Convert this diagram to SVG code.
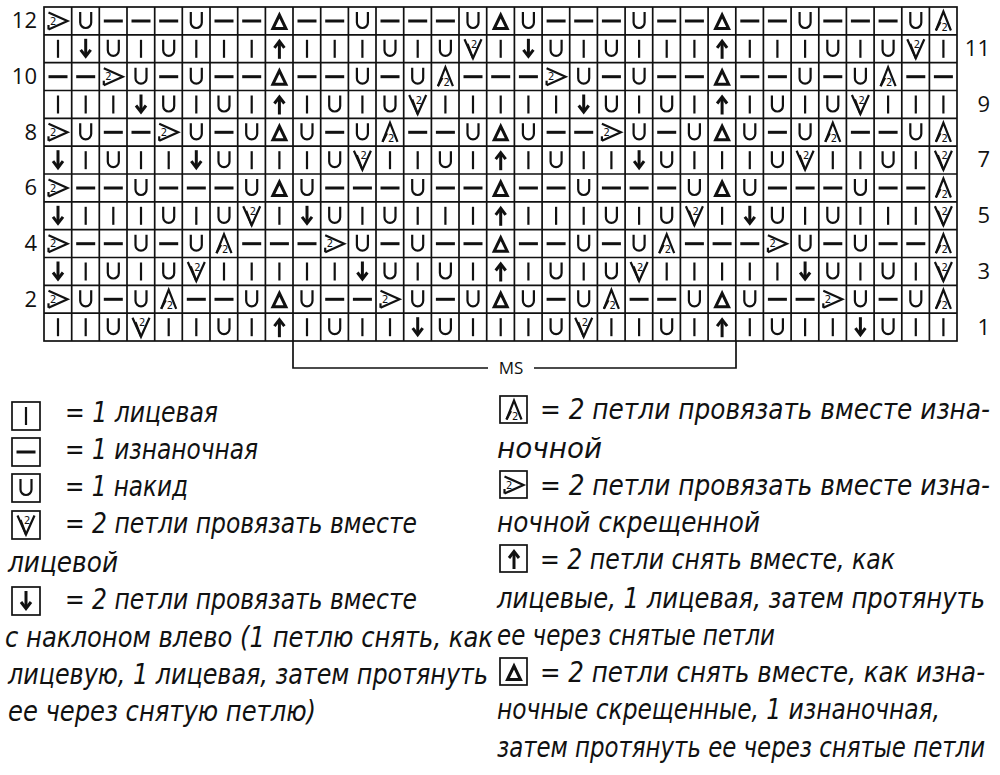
<svg xmlns="http://www.w3.org/2000/svg" xmlns:xlink="http://www.w3.org/1999/xlink" width="1000" height="775" viewBox="0 0 1000 775">
<style>
.s{fill:none;stroke:#111;stroke-width:2.2;stroke-linecap:butt;stroke-linejoin:miter}
.b{fill:none;stroke:#111;stroke-width:3}
.n2{font-family:"DejaVu Sans",sans-serif;font-size:10px;fill:#111}
.num{font-family:"Open Sans","DejaVu Sans",sans-serif;font-size:22px;fill:#111}
.lg{font-family:"Liberation Sans Narrow","DejaVu Sans Condensed","Liberation Sans",sans-serif;font-style:italic;font-size:29px;fill:#111}
.grid{fill:none;stroke:#111;stroke-width:1.7}
.box{fill:#fff;stroke:#111;stroke-width:1.7}
</style>
<defs>
<g id="k"><line class="s" x1="14" y1="5" x2="14" y2="23"/></g>
<g id="p"><line class="b" x1="4.5" y1="14" x2="23.5" y2="14"/></g>
<g id="y"><path class="s" d="M8.5,5V15.5a5.5,5.5 0 0 0 11,0V5"/></g>
<g id="v"><polyline class="s" points="5.5,4.5 14,23.5 22.5,4.5"/><line class="s" x1="8.5" y1="9" x2="14" y2="23.5" /><text class="n2" x="12" y="13">2</text></g>
<g id="a"><polyline class="s" points="6.5,23.5 14,4.5 21.5,23.5"/><line class="s" x1="6.5" y1="23.5" x2="11" y2="15"/><text class="n2" x="12" y="23.5">2</text></g>
<g id="c"><polyline class="s" points="4.5,5.5 23.5,14 4.5,22.5"/><line class="s" x1="4.5" y1="18" x2="4.5" y2="22.5"/><text class="n2" x="6" y="17.5">2</text></g>
<g id="t"><polygon class="b" points="7.5,21.5 14,8 20.5,21.5"/></g>
<g id="u"><line class="b" x1="14" y1="24" x2="14" y2="7"/><polyline class="b" points="9,13 14,6.5 19,13"/></g>
<g id="d"><line class="b" x1="14" y1="4" x2="14" y2="21"/><polyline class="b" points="9,15 14,21.5 19,15"/></g>
</defs>

<g id="chart-grid">
<rect class="grid" x="44" y="7" width="913" height="334"/>
<path class="grid" d="M71.7,7V341M99.3,7V341M127,7V341M154.7,7V341M182.3,7V341M210,7V341M237.7,7V341M265.4,7V341M293,7V341M320.7,7V341M348.4,7V341M376,7V341M403.7,7V341M431.4,7V341M459,7V341M486.7,7V341M514.4,7V341M542.1,7V341M569.7,7V341M597.4,7V341M625.1,7V341M652.7,7V341M680.4,7V341M708.1,7V341M735.8,7V341M763.4,7V341M791.1,7V341M818.8,7V341M846.4,7V341M874.1,7V341M901.8,7V341M929.4,7V341
M44,34.8H957M44,62.7H957M44,90.5H957M44,118.3H957M44,146.2H957M44,174H957M44,201.8H957M44,229.7H957M44,257.5H957M44,285.3H957M44,313.2H957"/>
</g>

<g id="row12" transform="translate(0,7)">
<use href="#c" x="44"/><use href="#y" x="71.7"/><use href="#p" x="99.3"/><use href="#p" x="127"/><use href="#p" x="154.7"/><use href="#y" x="182.3"/><use href="#p" x="210"/><use href="#p" x="237.7"/><use href="#t" x="265.4"/><use href="#p" x="293"/><use href="#p" x="320.7"/><use href="#y" x="348.4"/><use href="#p" x="376"/><use href="#p" x="403.7"/><use href="#p" x="431.4"/><use href="#y" x="459"/><use href="#t" x="486.7"/><use href="#y" x="514.4"/><use href="#p" x="542.1"/><use href="#p" x="569.7"/><use href="#p" x="597.4"/><use href="#y" x="625.1"/><use href="#p" x="652.7"/><use href="#p" x="680.4"/><use href="#t" x="708.1"/><use href="#p" x="735.8"/><use href="#p" x="763.4"/><use href="#y" x="791.1"/><use href="#p" x="818.8"/><use href="#p" x="846.4"/><use href="#p" x="874.1"/><use href="#y" x="901.8"/><use href="#a" x="929.4"/>
</g>
<g id="row11" transform="translate(0,34.8)">
<use href="#k" x="44"/><use href="#d" x="71.7"/><use href="#y" x="99.3"/><use href="#k" x="127"/><use href="#y" x="154.7"/><use href="#k" x="182.3"/><use href="#k" x="210"/><use href="#k" x="237.7"/><use href="#u" x="265.4"/><use href="#k" x="293"/><use href="#k" x="320.7"/><use href="#k" x="348.4"/><use href="#y" x="376"/><use href="#k" x="403.7"/><use href="#y" x="431.4"/><use href="#v" x="459"/><use href="#k" x="486.7"/><use href="#d" x="514.4"/><use href="#y" x="542.1"/><use href="#k" x="569.7"/><use href="#y" x="597.4"/><use href="#k" x="625.1"/><use href="#k" x="652.7"/><use href="#k" x="680.4"/><use href="#u" x="708.1"/><use href="#k" x="735.8"/><use href="#k" x="763.4"/><use href="#k" x="791.1"/><use href="#y" x="818.8"/><use href="#k" x="846.4"/><use href="#y" x="874.1"/><use href="#v" x="901.8"/><use href="#k" x="929.4"/>
</g>
<g id="row10" transform="translate(0,62.7)">
<use href="#p" x="44"/><use href="#p" x="71.7"/><use href="#c" x="99.3"/><use href="#y" x="127"/><use href="#p" x="154.7"/><use href="#y" x="182.3"/><use href="#p" x="210"/><use href="#p" x="237.7"/><use href="#t" x="265.4"/><use href="#p" x="293"/><use href="#p" x="320.7"/><use href="#y" x="348.4"/><use href="#p" x="376"/><use href="#y" x="403.7"/><use href="#a" x="431.4"/><use href="#p" x="459"/><use href="#p" x="486.7"/><use href="#p" x="514.4"/><use href="#c" x="542.1"/><use href="#y" x="569.7"/><use href="#p" x="597.4"/><use href="#y" x="625.1"/><use href="#p" x="652.7"/><use href="#p" x="680.4"/><use href="#t" x="708.1"/><use href="#p" x="735.8"/><use href="#p" x="763.4"/><use href="#y" x="791.1"/><use href="#p" x="818.8"/><use href="#y" x="846.4"/><use href="#a" x="874.1"/><use href="#p" x="901.8"/><use href="#p" x="929.4"/>
</g>
<g id="row9" transform="translate(0,90.5)">
<use href="#k" x="44"/><use href="#k" x="71.7"/><use href="#k" x="99.3"/><use href="#d" x="127"/><use href="#y" x="154.7"/><use href="#k" x="182.3"/><use href="#y" x="210"/><use href="#k" x="237.7"/><use href="#u" x="265.4"/><use href="#k" x="293"/><use href="#y" x="320.7"/><use href="#k" x="348.4"/><use href="#y" x="376"/><use href="#v" x="403.7"/><use href="#k" x="431.4"/><use href="#k" x="459"/><use href="#k" x="486.7"/><use href="#k" x="514.4"/><use href="#k" x="542.1"/><use href="#d" x="569.7"/><use href="#y" x="597.4"/><use href="#k" x="625.1"/><use href="#y" x="652.7"/><use href="#k" x="680.4"/><use href="#u" x="708.1"/><use href="#k" x="735.8"/><use href="#y" x="763.4"/><use href="#k" x="791.1"/><use href="#y" x="818.8"/><use href="#v" x="846.4"/><use href="#k" x="874.1"/><use href="#k" x="901.8"/><use href="#k" x="929.4"/>
</g>
<g id="row8" transform="translate(0,118.3)">
<use href="#c" x="44"/><use href="#y" x="71.7"/><use href="#p" x="99.3"/><use href="#p" x="127"/><use href="#c" x="154.7"/><use href="#y" x="182.3"/><use href="#p" x="210"/><use href="#y" x="237.7"/><use href="#t" x="265.4"/><use href="#y" x="293"/><use href="#p" x="320.7"/><use href="#y" x="348.4"/><use href="#a" x="376"/><use href="#p" x="403.7"/><use href="#p" x="431.4"/><use href="#y" x="459"/><use href="#t" x="486.7"/><use href="#y" x="514.4"/><use href="#p" x="542.1"/><use href="#p" x="569.7"/><use href="#c" x="597.4"/><use href="#y" x="625.1"/><use href="#p" x="652.7"/><use href="#y" x="680.4"/><use href="#t" x="708.1"/><use href="#y" x="735.8"/><use href="#p" x="763.4"/><use href="#y" x="791.1"/><use href="#a" x="818.8"/><use href="#p" x="846.4"/><use href="#p" x="874.1"/><use href="#y" x="901.8"/><use href="#a" x="929.4"/>
</g>
<g id="row7" transform="translate(0,146.2)">
<use href="#d" x="44"/><use href="#k" x="71.7"/><use href="#y" x="99.3"/><use href="#k" x="127"/><use href="#k" x="154.7"/><use href="#d" x="182.3"/><use href="#y" x="210"/><use href="#k" x="237.7"/><use href="#k" x="265.4"/><use href="#k" x="293"/><use href="#y" x="320.7"/><use href="#v" x="348.4"/><use href="#k" x="376"/><use href="#k" x="403.7"/><use href="#y" x="431.4"/><use href="#k" x="459"/><use href="#u" x="486.7"/><use href="#k" x="514.4"/><use href="#y" x="542.1"/><use href="#k" x="569.7"/><use href="#k" x="597.4"/><use href="#d" x="625.1"/><use href="#y" x="652.7"/><use href="#k" x="680.4"/><use href="#k" x="708.1"/><use href="#k" x="735.8"/><use href="#y" x="763.4"/><use href="#v" x="791.1"/><use href="#k" x="818.8"/><use href="#k" x="846.4"/><use href="#y" x="874.1"/><use href="#k" x="901.8"/><use href="#v" x="929.4"/>
</g>
<g id="row6" transform="translate(0,174)">
<use href="#c" x="44"/><use href="#p" x="71.7"/><use href="#p" x="99.3"/><use href="#y" x="127"/><use href="#p" x="154.7"/><use href="#p" x="182.3"/><use href="#p" x="210"/><use href="#y" x="237.7"/><use href="#t" x="265.4"/><use href="#y" x="293"/><use href="#p" x="320.7"/><use href="#p" x="348.4"/><use href="#p" x="376"/><use href="#y" x="403.7"/><use href="#p" x="431.4"/><use href="#p" x="459"/><use href="#t" x="486.7"/><use href="#p" x="514.4"/><use href="#p" x="542.1"/><use href="#y" x="569.7"/><use href="#p" x="597.4"/><use href="#p" x="625.1"/><use href="#p" x="652.7"/><use href="#y" x="680.4"/><use href="#t" x="708.1"/><use href="#y" x="735.8"/><use href="#p" x="763.4"/><use href="#p" x="791.1"/><use href="#p" x="818.8"/><use href="#y" x="846.4"/><use href="#p" x="874.1"/><use href="#p" x="901.8"/><use href="#a" x="929.4"/>
</g>
<g id="row5" transform="translate(0,201.8)">
<use href="#d" x="44"/><use href="#k" x="71.7"/><use href="#k" x="99.3"/><use href="#k" x="127"/><use href="#y" x="154.7"/><use href="#k" x="182.3"/><use href="#y" x="210"/><use href="#v" x="237.7"/><use href="#k" x="265.4"/><use href="#d" x="293"/><use href="#y" x="320.7"/><use href="#k" x="348.4"/><use href="#y" x="376"/><use href="#k" x="403.7"/><use href="#k" x="431.4"/><use href="#k" x="459"/><use href="#u" x="486.7"/><use href="#k" x="514.4"/><use href="#k" x="542.1"/><use href="#k" x="569.7"/><use href="#y" x="597.4"/><use href="#k" x="625.1"/><use href="#y" x="652.7"/><use href="#v" x="680.4"/><use href="#k" x="708.1"/><use href="#d" x="735.8"/><use href="#y" x="763.4"/><use href="#k" x="791.1"/><use href="#y" x="818.8"/><use href="#k" x="846.4"/><use href="#k" x="874.1"/><use href="#k" x="901.8"/><use href="#v" x="929.4"/>
</g>
<g id="row4" transform="translate(0,229.7)">
<use href="#c" x="44"/><use href="#p" x="71.7"/><use href="#p" x="99.3"/><use href="#y" x="127"/><use href="#p" x="154.7"/><use href="#y" x="182.3"/><use href="#a" x="210"/><use href="#p" x="237.7"/><use href="#p" x="265.4"/><use href="#p" x="293"/><use href="#c" x="320.7"/><use href="#y" x="348.4"/><use href="#p" x="376"/><use href="#y" x="403.7"/><use href="#p" x="431.4"/><use href="#p" x="459"/><use href="#t" x="486.7"/><use href="#p" x="514.4"/><use href="#p" x="542.1"/><use href="#y" x="569.7"/><use href="#p" x="597.4"/><use href="#y" x="625.1"/><use href="#a" x="652.7"/><use href="#p" x="680.4"/><use href="#p" x="708.1"/><use href="#p" x="735.8"/><use href="#c" x="763.4"/><use href="#y" x="791.1"/><use href="#p" x="818.8"/><use href="#y" x="846.4"/><use href="#p" x="874.1"/><use href="#p" x="901.8"/><use href="#a" x="929.4"/>
</g>
<g id="row3" transform="translate(0,257.5)">
<use href="#d" x="44"/><use href="#k" x="71.7"/><use href="#y" x="99.3"/><use href="#k" x="127"/><use href="#y" x="154.7"/><use href="#v" x="182.3"/><use href="#k" x="210"/><use href="#k" x="237.7"/><use href="#k" x="265.4"/><use href="#k" x="293"/><use href="#k" x="320.7"/><use href="#d" x="348.4"/><use href="#y" x="376"/><use href="#k" x="403.7"/><use href="#y" x="431.4"/><use href="#k" x="459"/><use href="#u" x="486.7"/><use href="#k" x="514.4"/><use href="#y" x="542.1"/><use href="#k" x="569.7"/><use href="#y" x="597.4"/><use href="#v" x="625.1"/><use href="#k" x="652.7"/><use href="#k" x="680.4"/><use href="#k" x="708.1"/><use href="#k" x="735.8"/><use href="#k" x="763.4"/><use href="#d" x="791.1"/><use href="#y" x="818.8"/><use href="#k" x="846.4"/><use href="#y" x="874.1"/><use href="#k" x="901.8"/><use href="#v" x="929.4"/>
</g>
<g id="row2" transform="translate(0,285.3)">
<use href="#c" x="44"/><use href="#y" x="71.7"/><use href="#p" x="99.3"/><use href="#y" x="127"/><use href="#a" x="154.7"/><use href="#p" x="182.3"/><use href="#p" x="210"/><use href="#y" x="237.7"/><use href="#t" x="265.4"/><use href="#y" x="293"/><use href="#p" x="320.7"/><use href="#p" x="348.4"/><use href="#c" x="376"/><use href="#y" x="403.7"/><use href="#p" x="431.4"/><use href="#y" x="459"/><use href="#t" x="486.7"/><use href="#y" x="514.4"/><use href="#p" x="542.1"/><use href="#y" x="569.7"/><use href="#a" x="597.4"/><use href="#p" x="625.1"/><use href="#p" x="652.7"/><use href="#y" x="680.4"/><use href="#t" x="708.1"/><use href="#y" x="735.8"/><use href="#p" x="763.4"/><use href="#p" x="791.1"/><use href="#c" x="818.8"/><use href="#y" x="846.4"/><use href="#p" x="874.1"/><use href="#y" x="901.8"/><use href="#a" x="929.4"/>
</g>
<g id="row1" transform="translate(0,313.2)">
<use href="#k" x="44"/><use href="#k" x="71.7"/><use href="#y" x="99.3"/><use href="#v" x="127"/><use href="#k" x="154.7"/><use href="#k" x="182.3"/><use href="#y" x="210"/><use href="#k" x="237.7"/><use href="#u" x="265.4"/><use href="#k" x="293"/><use href="#y" x="320.7"/><use href="#k" x="348.4"/><use href="#k" x="376"/><use href="#d" x="403.7"/><use href="#y" x="431.4"/><use href="#k" x="459"/><use href="#k" x="486.7"/><use href="#k" x="514.4"/><use href="#y" x="542.1"/><use href="#v" x="569.7"/><use href="#k" x="597.4"/><use href="#k" x="625.1"/><use href="#y" x="652.7"/><use href="#k" x="680.4"/><use href="#u" x="708.1"/><use href="#k" x="735.8"/><use href="#y" x="763.4"/><use href="#k" x="791.1"/><use href="#k" x="818.8"/><use href="#d" x="846.4"/><use href="#y" x="874.1"/><use href="#k" x="901.8"/><use href="#k" x="929.4"/>
</g>

<g id="row-numbers" class="num">
<text x="37" y="28" text-anchor="end">12</text>
<text x="37" y="84" text-anchor="end">10</text>
<text x="37" y="140" text-anchor="end">8</text>
<text x="37" y="195" text-anchor="end">6</text>
<text x="37" y="251" text-anchor="end">4</text>
<text x="37" y="307" text-anchor="end">2</text>
<text x="990" y="56" text-anchor="end">11</text>
<text x="990" y="112" text-anchor="end">9</text>
<text x="990" y="167" text-anchor="end">7</text>
<text x="990" y="223" text-anchor="end">5</text>
<text x="990" y="279" text-anchor="end">3</text>
<text x="990" y="335" text-anchor="end">1</text>
</g>

<g id="connectors">
<path class="grid" d="M293,341V368H488M534,368H736V341"/>
<text x="511" y="374" text-anchor="middle" style="font-family:'Open Sans','DejaVu Sans',sans-serif;font-size:17px;fill:#111">MS</text>
</g>

<g id="legend-left">
<rect class="box" x="12" y="402" width="28" height="28"/><use href="#k" x="12" y="402"/>
<text class="lg" x="65" y="422" textLength="153" lengthAdjust="spacingAndGlyphs">= 1 лицевая</text>
<rect class="box" x="12" y="438" width="28" height="28"/><use href="#p" x="12" y="438"/>
<text class="lg" x="65" y="459" textLength="193" lengthAdjust="spacingAndGlyphs">= 1 изнаночная</text>
<rect class="box" x="12" y="474" width="28" height="28"/><use href="#y" x="12" y="474"/>
<text class="lg" x="65" y="496" textLength="123" lengthAdjust="spacingAndGlyphs">= 1 накид</text>
<rect class="box" x="12" y="511" width="28" height="28"/><use href="#v" x="12" y="511"/>
<text class="lg" x="65" y="533" textLength="352" lengthAdjust="spacingAndGlyphs">= 2 петли провязать вместе</text>
<text class="lg" x="8" y="572" textLength="110" lengthAdjust="spacingAndGlyphs">лицевой</text>
<rect class="box" x="12" y="587" width="28" height="28"/><use href="#d" x="12" y="587"/>
<text class="lg" x="65" y="609" textLength="352" lengthAdjust="spacingAndGlyphs">= 2 петли провязать вместе</text>
<text class="lg" x="5" y="647" textLength="488" lengthAdjust="spacingAndGlyphs">с наклоном влево (1 петлю снять, как</text>
<text class="lg" x="8" y="684" textLength="480" lengthAdjust="spacingAndGlyphs">лицевую, 1 лицевая, затем протянуть</text>
<text class="lg" x="8" y="721" textLength="308" lengthAdjust="spacingAndGlyphs">ее через снятую петлю)</text>
</g>

<g id="legend-right">
<rect class="box" x="500" y="396" width="27" height="27"/><use href="#a" x="500" y="396"/>
<text class="lg" x="540" y="419" textLength="450" lengthAdjust="spacingAndGlyphs">= 2 петли провязать вместе изна-</text>
<text class="lg" x="497" y="458" textLength="105" lengthAdjust="spacingAndGlyphs">ночной</text>
<rect class="box" x="500" y="471" width="27" height="27"/><use href="#c" x="500" y="471"/>
<text class="lg" x="540" y="495" textLength="450" lengthAdjust="spacingAndGlyphs">= 2 петли провязать вместе изна-</text>
<text class="lg" x="497" y="532" textLength="263" lengthAdjust="spacingAndGlyphs">ночной скрещенной</text>
<rect class="box" x="500" y="545" width="27" height="27"/><use href="#u" x="500" y="545"/>
<text class="lg" x="540" y="569" textLength="355" lengthAdjust="spacingAndGlyphs">= 2 петли снять вместе, как</text>
<text class="lg" x="497" y="608" textLength="488" lengthAdjust="spacingAndGlyphs">лицевые, 1 лицевая, затем протянуть</text>
<text class="lg" x="497" y="645" textLength="278" lengthAdjust="spacingAndGlyphs">ее через снятые петли</text>
<rect class="box" x="500" y="658" width="27" height="27"/><use href="#t" x="500" y="658"/>
<text class="lg" x="540" y="682" textLength="445" lengthAdjust="spacingAndGlyphs">= 2 петли снять вместе, как изна-</text>
<text class="lg" x="497" y="719" textLength="443" lengthAdjust="spacingAndGlyphs">ночные скрещенные, 1 изнаночная,</text>
<text class="lg" x="497" y="757" textLength="488" lengthAdjust="spacingAndGlyphs">затем протянуть ее через снятые петли</text>
</g>
</svg>
